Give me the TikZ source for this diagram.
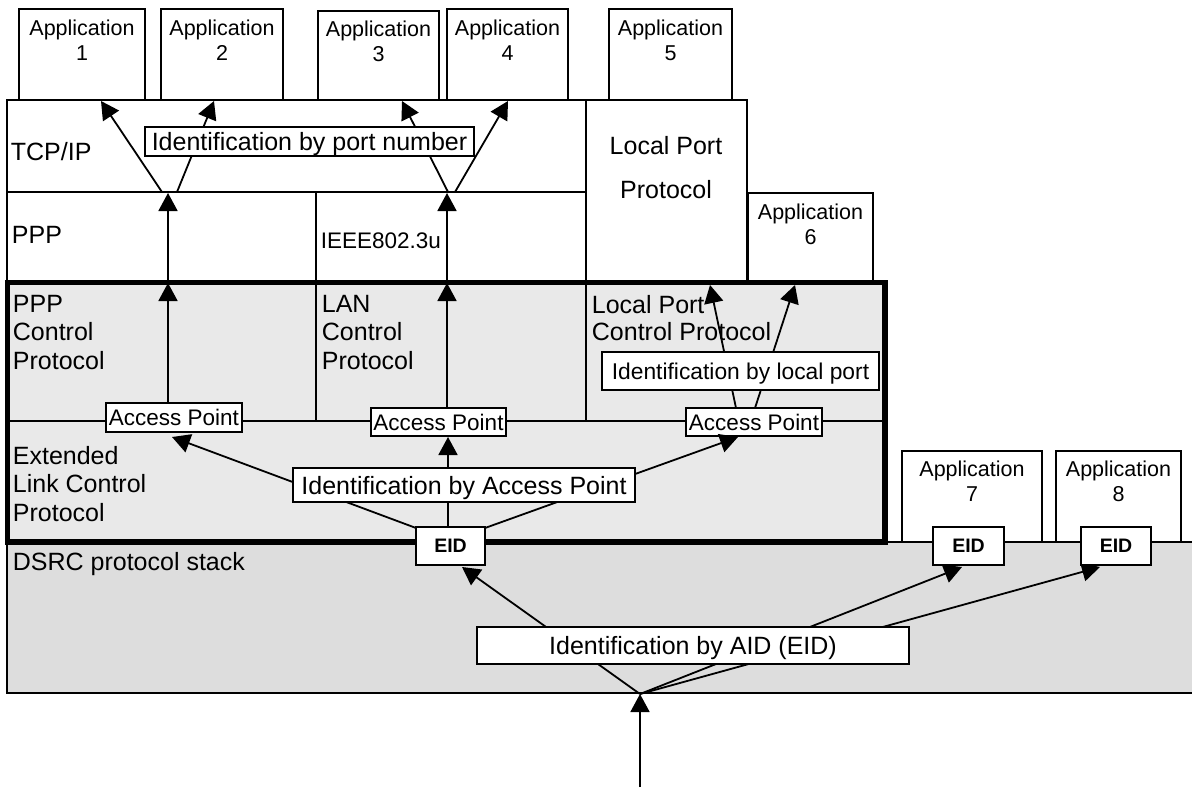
\documentclass[tikz,border=0pt]{standalone}
\usepackage{fontspec}
\setmainfont{Liberation Sans}
\usetikzlibrary{arrows.meta,fit}
\definecolor{lcpfill}{RGB}{233,233,233}
\definecolor{dsrcfill}{RGB}{221,221,221}
\begin{document}
\begin{tikzpicture}[x=0.5pt,y=-0.5pt,line width=0.9pt,
  box/.style={draw,fill=white,inner sep=0pt},
  tag/.style={draw,fill=white,inner sep=0pt,text depth=0pt,font=\fontsize{12.5}{14}\selectfont},
  aptag/.style={tag,font=\fontsize{11.25}{13}\selectfont},
  lptag/.style={tag,font=\fontsize{11.4}{13}\selectfont},
  eidtag/.style={tag,font=\fontsize{9.75}{11}\selectfont\bfseries},
  txt/.style={inner sep=0pt,font=\fontsize{12.5}{14.25}\selectfont},
  lefttext/.style={txt,anchor=north west,align=left},
  apptext/.style={inner sep=0pt,anchor=north,align=center,font=\fontsize{10.75}{12.5}\selectfont},
  arr/.style={-{Triangle[length=9pt,width=9.5pt]}},
]
\useasboundingbox (0,0) rectangle (1192,787);

% DSRC protocol stack (runs off the right edge)
\node[draw,fill=dsrcfill,inner sep=0pt,fit={(7,542)(1220,693)}] (dsrc) {};
\node[txt,anchor=base west] (dsrct) at (12,570) {DSRC protocol stack};

% extended link control area
\node[fill=lcpfill,inner sep=0pt,fit={(8,283)(884,541)}] (elcp) {};
\draw (8,421) -- (884,421);
\draw (316,283) -- (316,421);
\draw (586,283) -- (586,421);
\node[lefttext] (pppcp) at (12,294) {PPP\\Control\\Protocol};
\node[lefttext] (lancp) at (321,294) {LAN\\Control\\Protocol};
\node[lefttext,font=\fontsize{12.5}{13.5}\selectfont] (lpcp) at (591,294) {Local Port\\Control Protocol};
\node[lefttext] (elcpt) at (12,445) {Extended\\Link Control\\Protocol};

% upper protocol layers
\node[box,fit={(7,100)(586,192)}] (tcp) {};
\node[box,fit={(7,192)(316,282)}] (ppp) {};
\node[box,fit={(316,192)(586,282)}] (ieee) {};
\node[box,fit={(586,100)(747,282)}] (lpp) {};
\node[txt,anchor=base west] (tcpt) at (10,160) {TCP/IP};
\node[txt,anchor=base west] (pppt) at (11,243) {PPP};
\node[txt,anchor=base west,font=\fontsize{11.25}{13}\selectfont] (ieeet) at (320,248) {IEEE802.3u};
\node[txt,anchor=north,align=center,font=\fontsize{12.5}{22}\selectfont] (lppt) at (666,135) {Local Port\\Protocol};

% applications
\node[box,fit={(19,9)(145,100)}] (app1) {};
\node[box,fit={(161,9)(283,100)}] (app2) {};
\node[box,fit={(318,11)(439,100)}] (app3) {};
\node[box,fit={(447,9)(568,100)}] (app4) {};
\node[box,fit={(609,9)(732,100)}] (app5) {};
\node[box,fit={(748,193)(873,282)}] (app6) {};
\node[box,fit={(902,451)(1042,542)}] (app7) {};
\node[box,fit={(1056,451)(1181,542)}] (app8) {};
\node[apptext] (app1t) at (82,19.5) {Application\\1};
\node[apptext] (app2t) at (222,19.5) {Application\\2};
\node[apptext] (app3t) at (378.5,20.5) {Application\\3};
\node[apptext] (app4t) at (507.5,19.5) {Application\\4};
\node[apptext] (app5t) at (670.5,19.5) {Application\\5};
\node[apptext] (app6t) at (810.5,203) {Application\\6};
\node[apptext] (app7t) at (972,460) {Application\\7};
\node[apptext] (app8t) at (1118.5,460) {Application\\8};

% connector end points
\coordinate (pA) at (162,192);
\coordinate (pB) at (177,192);
\coordinate (lA) at (448,192);
\coordinate (lB) at (455,192);
\coordinate (to1) at (101,101);
\coordinate (to2) at (214,101);
\coordinate (to3) at (402,101);
\coordinate (to4) at (508,101);
\coordinate (pppUp) at (168,193);
\coordinate (pppLo) at (168,283);
\coordinate (lanUp) at (447,193);
\coordinate (lanLo) at (447,283);
\coordinate (to5) at (710,285);
\coordinate (to6) at (795,285);
\coordinate (lpA) at (736,408);
\coordinate (lpB) at (755,408);
\coordinate (apIn1) at (172,437);
\coordinate (apIn2) at (448,437);
\coordinate (apIn3) at (738,437);
\coordinate (eA) at (416,528);
\coordinate (eB) at (448,527);
\coordinate (eC) at (485,528);
\coordinate (hub) at (640,694);
\coordinate (feed) at (640,787);
\coordinate (eid1In) at (462,567);
\coordinate (eid2In) at (962,567);
\coordinate (eid3In) at (1100,567);

% port number dispatch
\draw[arr] (pA) -- (to1);
\draw[arr] (pB) -- (to2);
\draw[arr] (lA) -- (to3);
\draw[arr] (lB) -- (to4);
\draw[arr] (pppLo) -- (pppUp);
\draw[arr] (lanLo) -- (lanUp);

% access point nodes
\node[aptag,minimum width=68pt,minimum height=14.5pt] (ap1) at (174,417.5) {Access Point};
\node[aptag,minimum width=67.5pt,minimum height=14pt] (ap2) at (438.5,422) {Access Point};
\node[aptag,minimum width=68pt,minimum height=14pt] (ap3) at (754,422) {Access Point};
\draw[arr] (ap1.north -| pppLo) -- (pppLo);
\draw[arr] (ap2.north -| lanLo) -- (lanLo);
\draw[arr] (lpA) -- (to5);
\draw[arr] (lpB) -- (to6);

% access point dispatch
\draw[arr] (eA) -- (apIn1);
\draw[arr] (eB) -- (apIn2);
\draw[arr] (eC) -- (apIn3);

% AID dispatch
\draw[arr] (hub) -- (eid1In);
\draw[arr] (hub) -- (eid2In);
\draw[arr] (hub) -- (eid3In);
\draw[arr] (feed) -- (hub);

% identification labels
\node[tag,minimum width=164.5pt,minimum height=14.5pt] (portid) at (309.5,141.5) {Identification by port number};
\node[lptag,minimum width=138.5pt,minimum height=19pt] (localid) at (740.5,371) {Identification by local port};
\node[tag,minimum width=171pt,minimum height=17pt] (apid) at (464,485) {Identification by Access Point};
\node[tag,minimum width=216pt,minimum height=18.5pt] (aidid) at (693,645.5) {Identification by AID (EID)};

% heavy frame round the link control layers
\draw[line width=2.6pt] (elcp.north west) rectangle (elcp.south east);

% EID tags
\node[eidtag,minimum width=34.5pt,minimum height=19pt] (eid1) at (450.5,546) {EID};
\node[eidtag,minimum width=35.5pt,minimum height=19pt] (eid2) at (968.5,546) {EID};
\node[eidtag,minimum width=35pt,minimum height=19pt] (eid3) at (1116,546) {EID};
\end{tikzpicture}
\end{document}
